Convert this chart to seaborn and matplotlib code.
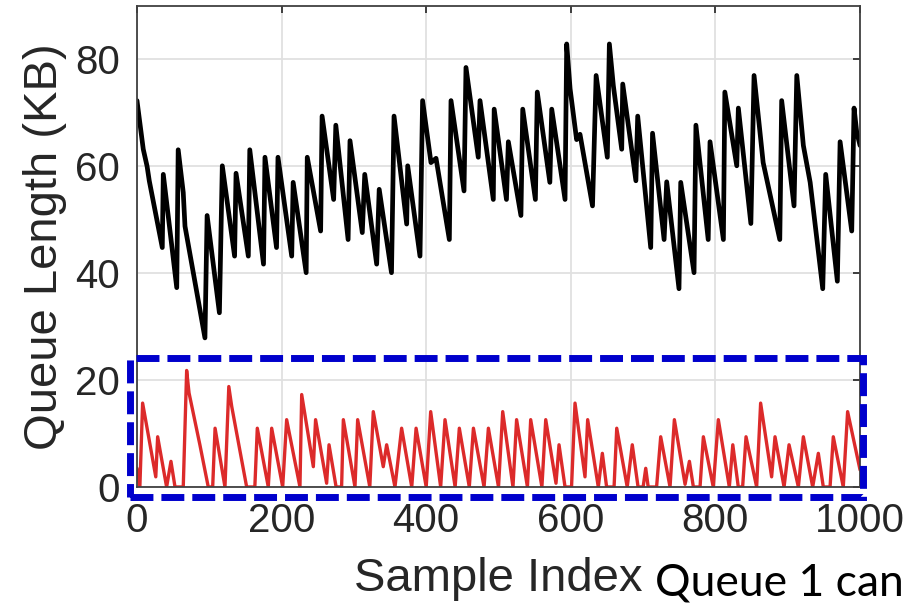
import matplotlib
matplotlib.use("Agg")
import matplotlib.pyplot as plt
from matplotlib.patches import Rectangle
import seaborn as sns
import pandas as pd

# Queue occupancy traces: breakpoints of the sawtooth (sample index, KB)
queue2_idx = [0, 8.7, 14, 17, 35, 36.4, 55, 57, 64, 66.4, 94, 97, 114, 118, 135, 137,
              154, 156, 175, 177, 193, 195, 214, 216, 234, 235.5, 254, 256, 272, 275,
              292, 294.6, 311.6, 315, 331.5, 335, 352, 355.5, 373, 374.4, 391.4, 395,
              406.6, 413.6, 432, 434.3, 452.3, 455, 472, 474.4, 492.8, 494, 511, 513.6,
              531, 533.5, 551, 553.6, 571, 573.6, 592, 594.3, 599, 608, 612.7, 630, 635,
              650.5, 653.3, 658.8, 670.4, 671.8, 690, 692.5, 710.5, 713, 729, 732.6,
              749.6, 752, 770.4, 773, 790, 792.5, 811, 813, 829.5, 831.7, 849, 853.4,
              866, 889, 891.6, 908.7, 912.5, 921.6, 931, 948.4, 952.5, 968.6, 972.4,
              988.5, 991.7, 995.4, 1000]
queue2_kb = [72.3, 63.2, 60.0, 57.3, 44.8, 58.5, 37.3, 63.1, 55.1, 48.8, 27.9, 50.8,
             32.6, 60.1, 43.2, 58.7, 43.2, 63.1, 41.7, 61.7, 44.8, 61.7, 43.2, 57.0,
             40.1, 61.7, 47.9, 69.4, 53.8, 67.7, 46.3, 64.8, 47.6, 58.5, 41.7, 55.7,
             40.1, 69.4, 49.2, 60.1, 43.2, 72.3, 60.7, 61.5, 46.3, 72.3, 55.4, 78.5,
             61.7, 72.3, 53.8, 70.7, 53.8, 64.6, 50.8, 70.7, 53.8, 73.9, 57.0, 70.7,
             53.8, 82.9, 74.5, 65.0, 66.0, 52.6, 77.0, 61.7, 82.9, 75.1, 63.2, 75.4,
             57.3, 69.4, 44.8, 66.2, 46.3, 57.1, 37.1, 57.0, 40.1, 67.7, 46.3, 64.6,
             46.3, 73.9, 60.1, 70.9, 49.3, 77.0, 60.7, 46.3, 72.3, 52.6, 77.0, 63.9,
             57.0, 37.1, 58.5, 38.5, 64.6, 47.9, 70.9, 66.4, 63.9]

queue1_idx = [0, 4, 7.8, 26, 28.6, 41, 47, 52.6, 64, 68.7, 72, 87, 98.6, 104.7, 108,
              121.7, 127, 131, 151.7, 163, 166.4, 181.6, 186.3, 201.5, 207, 225.4,
              227.8, 243.9, 247, 262.3, 265.6, 275.4, 283, 285.4, 301.5, 305.2, 322,
              326.8, 340.6, 345.3, 356.8, 366, 380, 386, 400, 406.2, 420, 426, 440,
              445.8, 459.6, 465.3, 480, 486, 500, 505.8, 520, 525, 540, 544.5, 560,
              565.3, 579.5, 583.7, 592, 601, 605.8, 619.6, 623.3, 638, 643.6, 649.5,
              659.8, 663.5, 678, 685, 693, 700, 703.6, 707, 718.6, 724.3, 737.2,
              743.2, 758, 764, 769.5, 778.7, 783.3, 797, 804, 819.2, 824, 831.6,
              837.6, 842.3, 857, 862.5, 877.7, 882.4, 894.9, 901.8, 914.7, 921.6,
              934.5, 942.3, 949.2, 958.5, 963, 976.8, 982.8, 1000]
queue1_kb = [3.5, 0, 15.7, 1.9, 9.4, 0, 4.8, 0, 0, 21.8, 17.6, 7.9, 0, 0, 11.0, 0,
             18.8, 15.1, 0, 0, 11.0, 0, 11.0, 0, 12.6, 0, 17.3, 3.8, 12.6, 0.7, 7.9,
             0, 0, 12.6, 0, 12.6, 0, 14.1, 3.8, 7.9, 0, 11.0, 0, 11.0, 0, 14.1, 0,
             12.6, 0, 11.0, 0, 11.0, 0, 11.0, 0, 14.1, 0, 12.6, 0, 12.6, 0, 12.6,
             0.7, 7.9, 0, 0, 15.7, 1.9, 12.6, 0, 6.3, 0, 0, 11.0, 0, 7.9, 0, 0, 3.5,
             0, 0, 9.4, 0, 12.6, 0.5, 4.8, 0, 0, 9.4, 0, 12.6, 0, 7.9, 0, 0, 9.4, 0,
             15.7, 1.9, 9.4, 0, 7.9, 0, 9.4, 0, 6.3, 0, 0, 9.4, 0, 14.1, 3.2]

x_ticks = [0, 200, 400, 600, 800, 1000]
y_ticks = [0, 20, 40, 60, 80]

q2 = pd.DataFrame({"idx": queue2_idx, "kb": queue2_kb})
q1 = pd.DataFrame({"idx": queue1_idx, "kb": queue1_kb})

sns.set_theme(style="whitegrid")
plt.rcParams["font.family"] = ["Liberation Sans", "DejaVu Sans"]

fig = plt.figure(figsize=(9.23, 6.07), dpi=100)
ax = fig.add_axes([0.1484, 0.1977, 0.7834, 0.7924])

sns.lineplot(data=q2, x="idx", y="kb", ax=ax, color="black", linewidth=3.4,
             sort=False, estimator=None)
sns.lineplot(data=q1, x="idx", y="kb", ax=ax, color="#DC2A2A", linewidth=2.4,
             sort=False, estimator=None)

ax.set_xlim(0, 1000)
ax.set_ylim(0, 90)
ax.set_xticks(x_ticks)
ax.set_yticks(y_ticks)

ax.grid(True, color="#E0E0E0", linewidth=1.3)
for side in ["left", "right", "top", "bottom"]:
    ax.spines[side].set_visible(True)
    ax.spines[side].set_color("#404040")
    ax.spines[side].set_linewidth(1.3)
ax.tick_params(axis="both", direction="in", length=5, width=1.3, color="#303030",
               top=True, right=True, labelsize=29, labelcolor="#262626")
ax.tick_params(axis="x", pad=11)
ax.tick_params(axis="y", pad=12)

ax.set_xlabel("Sample Index", fontsize=34, color="#262626", labelpad=12)
ax.set_ylabel("Queue Length (KB)", fontsize=34, color="#262626", labelpad=6)

# Dashed highlight around the low-occupancy queue
box = Rectangle((-9.7, -1.8), 1013.4, 25.9, fill=False, edgecolor="#0000CC",
                linewidth=5, linestyle=(0, (3.3, 1.15)), clip_on=False, zorder=5)
ax.add_patch(box)

fig.text(655 / 923, 1 - 596 / 607, "Queue 1 can", fontsize=32,
         family=["Lato", "DejaVu Sans"], color="black", ha="left", va="baseline")

fig.savefig("out.png", dpi=100)
